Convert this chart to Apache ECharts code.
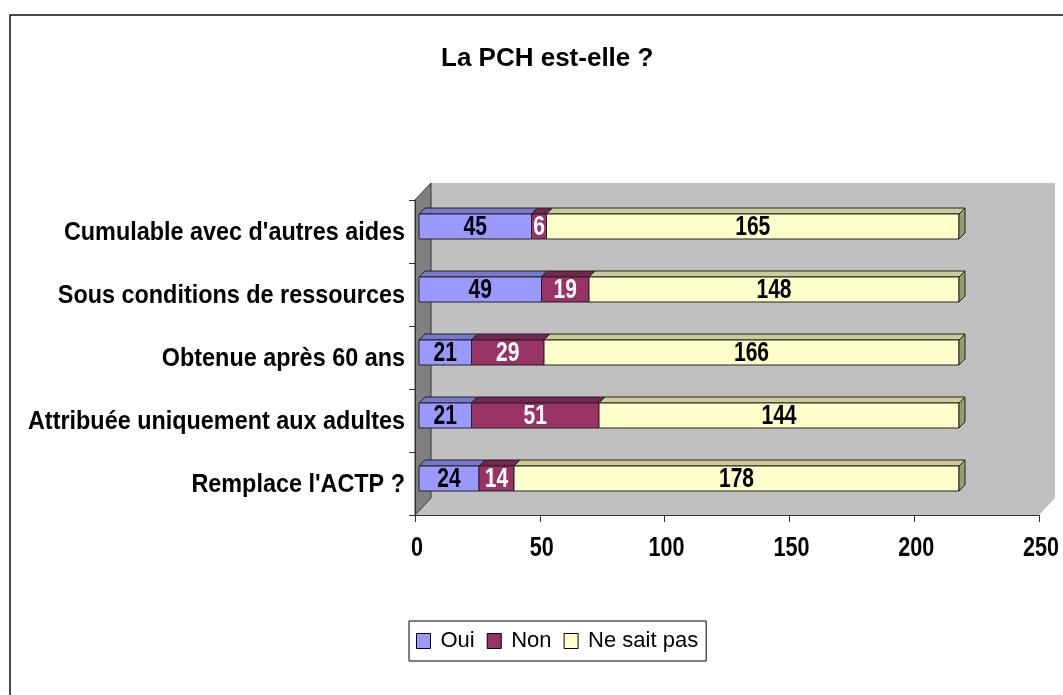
<!DOCTYPE html>
<html>
<head>
<meta charset="utf-8">
<script src="https://cdn.jsdelivr.net/npm/echarts@6/dist/echarts.min.js"></script>
<style>
  html, body { margin: 0; padding: 0; background: #fff; }
  #chart { width: 1063px; height: 695px; }
</style>
</head>
<body>
<div id="chart"></div>
<script>
// data, bottom to top
var categories = ['Remplace l\'ACTP ?', 'Attribuée uniquement aux adultes', 'Obtenue après 60 ans', 'Sous conditions de ressources', 'Cumulable avec d\'autres aides'];
var oui = [24, 21, 21, 49, 45];
var non = [14, 51, 29, 19, 6];
var nsp = [178, 144, 166, 148, 165];
var seriesNames = ['Oui', 'Non', 'Ne sait pas'];
var xTicks = [0, 50, 100, 150, 200, 250];

var FONT = '"Liberation Sans", Arial, sans-serif';

// layout of the fake 3d box
var AX_LEFT = 415, AX_TOP = 200, AX_W = 624, AX_H = 315;
var DEPTH_X = 16, DEPTH_Y = 17;
var BAR_H = 25, BAR_D = 6;

var faces = [
  { front: '#9999ff', top: '#7777cc', side: '#6666aa', text: '#000' },
  { front: '#993366', top: '#732650', side: '#5c1f40', text: '#fff' },
  { front: '#ffffcc', top: '#cccc99', side: '#999973', text: '#000' }
];

function stackData(vals, below) {
  return vals.map(function (v, i) {
    var start = 0;
    below.forEach(function (b) { start += b[i]; });
    return [v, i, start];
  });
}

var stacks = [oui, non, nsp];

function makeRender(k) {
  var f = faces[k];
  var last = k === stacks.length - 1;
  return function (params, api) {
    var v = api.value(0), ci = api.value(1), s = api.value(2);
    var p0 = api.coord([s, ci]);
    var p1 = api.coord([s + v, ci]);
    var x0 = p0[0], x1 = p1[0];
    var top = p0[1] - BAR_H / 2, bot = p0[1] + BAR_H / 2;
    var kids = [
      { type: 'polygon', shape: { points: [[x0, top], [x1, top], [x1 + BAR_D, top - BAR_D], [x0 + BAR_D, top - BAR_D]] },
        style: { fill: f.top, stroke: '#222', lineWidth: 1 } },
      { type: 'rect', shape: { x: x0, y: top, width: x1 - x0, height: BAR_H },
        style: { fill: f.front, stroke: '#222', lineWidth: 1 } },
      { type: 'text', x: (x0 + x1) / 2, y: p0[1] + 1, scaleX: 0.78,
        style: { text: String(v), x: 0, y: 0, align: 'center', verticalAlign: 'middle',
          fill: f.text, font: 'bold 27px ' + FONT } }
    ];
    if (last) {
      kids.push({ type: 'polygon', shape: { points: [[x1, top], [x1 + BAR_D, top - BAR_D], [x1 + BAR_D, bot - BAR_D], [x1, bot]] },
        style: { fill: f.side, stroke: '#222', lineWidth: 1 } });
    }
    return { type: 'group', children: kids };
  };
}

var series = stacks.map(function (vals, k) {
  return {
    name: seriesNames[k],
    type: 'custom',
    xAxisIndex: 0,
    yAxisIndex: 0,
    z: 5,
    itemStyle: { color: faces[k].front },
    encode: { x: 0, y: 1 },
    renderItem: makeRender(k),
    data: stackData(vals, stacks.slice(0, k))
  };
});

// walls and floor
var bx = AX_LEFT + DEPTH_X, by = AX_TOP - DEPTH_Y;
var wallR = AX_LEFT + AX_W + DEPTH_X, floorY = AX_TOP + AX_H;
var walls = [
  { type: 'rect', z: -10, shape: { x: 10, y: 15, width: 1200, height: 900 }, style: { fill: '#fff', stroke: '#111', lineWidth: 1.5 } },
  { type: 'rect', z: -9, shape: { x: bx, y: by, width: wallR - bx, height: floorY - DEPTH_Y - by }, style: { fill: '#c0c0c0' } },
  { type: 'polygon', z: -9, shape: { points: [[AX_LEFT, floorY], [AX_LEFT + AX_W, floorY], [wallR, floorY - DEPTH_Y], [bx, floorY - DEPTH_Y]] }, style: { fill: '#c0c0c0' } },
  { type: 'polygon', z: -8, shape: { points: [[AX_LEFT, AX_TOP], [bx, by], [bx, floorY - DEPTH_Y], [AX_LEFT, floorY]] }, style: { fill: '#808080', stroke: '#333', lineWidth: 1 } }
];

var chart = echarts.init(document.getElementById('chart'));
chart.setOption({
  animation: false,
  backgroundColor: '#fff',
  title: {
    text: 'La PCH est-elle ?',
    left: 436, top: 41,
    textStyle: { fontFamily: FONT, fontSize: 26, fontWeight: 'bold', color: '#000' }
  },
  legend: {
    left: 409, top: 621,
    padding: [9, 8, 9, 7],
    backgroundColor: '#fff',
    borderColor: '#000', borderWidth: 1,
    itemWidth: 14, itemHeight: 15, itemGap: 12,
    icon: 'rect',
    itemStyle: { borderColor: '#000', borderWidth: 1 },
    textStyle: { fontFamily: FONT, fontSize: 22, color: '#000', padding: [0, 0, 0, 5] },
    data: seriesNames
  },
  graphic: { elements: walls },
  grid: [
    { left: AX_LEFT + 4, top: AX_TOP - 5, width: 625, height: AX_H },
    { left: AX_LEFT, top: AX_TOP, width: AX_W, height: AX_H }
  ],
  xAxis: [
    { type: 'value', gridIndex: 0, min: 0, max: 250, show: false },
    {
      type: 'value', gridIndex: 1, min: xTicks[0], max: xTicks[xTicks.length - 1], interval: 50, z: 3,
      axisLine: { show: true, lineStyle: { color: '#333', width: 1 } },
      axisTick: { show: true, length: 7, lineStyle: { color: '#333' } },
      splitLine: { show: false },
      axisLabel: { show: false }
    }
  ],
  yAxis: [
    { type: 'category', gridIndex: 0, data: categories, show: false },
    {
      type: 'category', gridIndex: 1, data: categories, z: 3,
      axisLine: { show: true, lineStyle: { color: '#333', width: 1 } },
      axisTick: { show: true, length: 6, lineStyle: { color: '#333' } },
      axisLabel: { show: false }
    }
  ],
  series: series
});

// condensed axis labels, placed through the axes' own scales
var labels = [];
xTicks.forEach(function (t) {
  var px = chart.convertToPixel({ xAxisIndex: 1 }, t);
  labels.push({ type: 'text', x: px + 2, y: floorY + 34, scaleX: 0.8, z: 10,
    style: { text: String(t), x: 0, y: 0, align: 'center', verticalAlign: 'middle', fill: '#000', font: 'bold 27px ' + FONT } });
});
categories.forEach(function (c, i) {
  var py = chart.convertToPixel({ yAxisIndex: 1 }, i);
  labels.push({ type: 'text', x: AX_LEFT - 10, y: py + 1, scaleX: 0.9, z: 10,
    style: { text: c, x: 0, y: 0, align: 'right', verticalAlign: 'middle', fill: '#000', font: 'bold 26px ' + FONT } });
});
chart.setOption({ graphic: { elements: walls.concat(labels) } });
</script>
</body>
</html>
